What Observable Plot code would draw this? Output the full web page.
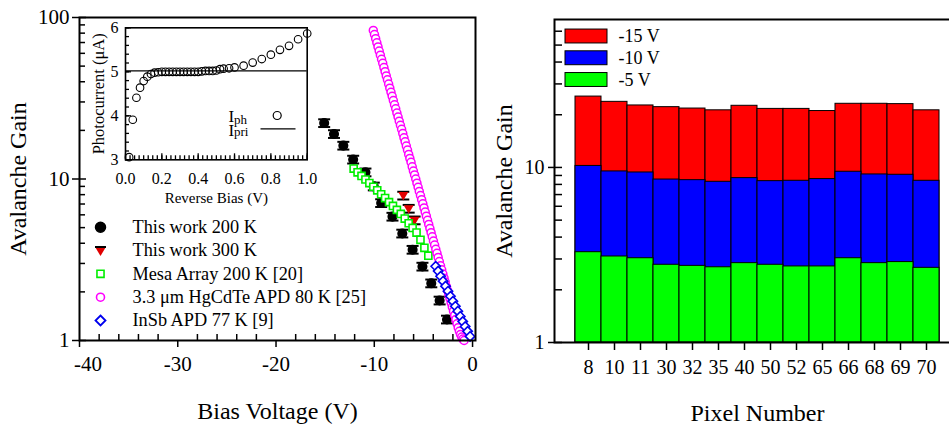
<!DOCTYPE html>
<html><head><meta charset="utf-8">
<script src="https://cdn.jsdelivr.net/npm/d3@7"></script>
<script src="https://cdn.jsdelivr.net/npm/@observablehq/plot@0.6"></script>
<style>
body{margin:0;background:#fff;overflow:hidden}
#wrap{position:relative;width:949px;height:425px;overflow:hidden;background:#fff}
#wrap > svg{position:absolute;top:0;margin:0}
#wrap svg, #wrap svg text{font-family:"Liberation Serif","Times New Roman",serif !important}
</style></head><body><div id="wrap"></div>
<script>
// ---------- Left panel: avalanche gain vs bias ----------
const seriesNames = ["This work 200 K","This work 300 K","Mesa Array 200 K [20]","3.3 μm HgCdTe APD 80 K [25]","InSb APD 77 K [9]"];
const work200V = [-15.1,-14.1,-13.15,-12.15,-10.9,-10.05,-9.3,-8.15,-7.15,-6.1,-5.1,-4.2,-3.35,-2.6];
const work200G = [22.2,19.0,16.1,13.2,11.0,9.0,7.1,5.85,4.6,3.65,2.87,2.26,1.77,1.35];
const work300V = [-7.05,-6.5,-5.9];
const work300G = [7.9,6.55,5.55];
const relErr = 0.055;
const mesaV = [-12.1,-11.7,-11.3,-10.9,-10.5,-10.1,-9.7,-9.3,-8.9,-8.5,-8.1,-7.7,-7.3,-6.9,-6.5,-6.1,-5.7,-5.3,-4.9,-4.5];
const mesaG = [11.6,11.0,10.45,9.93,9.44,8.95,8.51,8.05,7.62,7.19,6.81,6.44,6.08,5.69,5.32,4.98,4.66,4.2,3.75,3.35];
const hgV = [-10.10,-9.98,-9.86,-9.74,-9.62,-9.50,-9.38,-9.26,-9.14,-9.02,
  -8.90,-8.78,-8.66,-8.54,-8.42,-8.30,-8.18,-8.06,-7.94,-7.82,
  -7.70,-7.58,-7.46,-7.34,-7.22,-7.10,-6.98,-6.86,-6.74,-6.62,
  -6.50,-6.38,-6.26,-6.14,-6.02,-5.90,-5.78,-5.66,-5.54,-5.42,
  -5.30,-5.18,-5.06,-4.94,-4.82,-4.70,-4.58,-4.46,-4.34,-4.22,
  -4.10,-3.98,-3.86,-3.74,-3.62,-3.50,-3.38,-3.26,-3.14,-3.02,
  -2.90,-2.78,-2.66,-2.54,-2.42,-2.30,-2.18,-2.06,-1.94,-1.82,
  -1.70,-1.58,-1.46,-1.34,-1.22,-1.10,-0.98,-0.86];
const hgG = [83.2,78.4,73.9,69.7,65.7,62.0,58.4,55.1,52.0,49.0,
  46.2,43.5,41.1,38.7,36.5,34.4,32.5,30.6,28.8,27.2,
  25.6,24.2,22.8,21.5,20.3,19.1,18.0,17.0,16.0,15.1,
  14.2,13.4,12.7,11.9,11.2,10.6,10.0,9.42,8.89,8.38,
  7.90,7.45,7.02,6.62,6.24,5.89,5.55,5.23,4.93,4.65,
  4.39,4.13,3.90,3.67,3.47,3.27,3.08,2.90,2.74,2.58,
  2.43,2.30,2.16,2.04,1.92,1.82,1.71,1.61,1.52,1.43,
  1.35,1.27,1.20,1.14,1.09,1.05,1.02,1.00];
const insbV = [-3.75,-3.5,-3.25,-3.0,-2.75,-2.5,-2.25,-2.0,-1.75,-1.5,-1.25,-1.0,-0.75,-0.5,-0.25];
const insbG = [2.88,2.69,2.50,2.33,2.17,2.02,1.88,1.75,1.63,1.52,1.41,1.31,1.22,1.14,1.06];
const mainXTicks = [-40,-30,-20,-10,0];
const mainYTicks = [1,10,100];

// ---------- Inset: photocurrent vs reverse bias ----------
const insetBias = [0.02,0.04,0.06,0.08,0.10,0.12,0.14,0.16,0.18,0.20,0.22,0.24,0.26,0.28,0.30,0.32,0.34,0.36,0.38,0.40,0.42,0.44,0.46,0.48,0.50,0.52,0.54,0.57,0.60,0.65,0.70,0.75,0.80,0.85,0.90,0.95,1.00];
const insetIph = [3.06,3.91,4.41,4.64,4.79,4.89,4.95,4.98,4.99,5.00,5.00,5.00,5.00,5.00,5.00,5.00,5.00,5.00,5.00,5.00,5.01,5.02,5.02,5.02,5.03,5.06,5.07,5.08,5.10,5.14,5.21,5.29,5.39,5.50,5.59,5.74,5.87];
const insetIpri = 5.02;
const insetXTicks = [0,0.2,0.4,0.6,0.8,1.0];
const insetYTicks = [3,4,5,6];

// ---------- Right panel: gain per pixel ----------
const pixels = ["8","10","11","30","32","35","40","50","52","65","66","68","69","70"];
const gain15 = [25.4,23.7,22.6,22.1,21.7,21.2,22.5,21.6,21.6,21.0,23.1,23.1,23.0,21.2];
const gain10 = [10.2,9.49,9.36,8.53,8.46,8.28,8.69,8.35,8.39,8.58,9.45,9.12,9.08,8.39];
const gain5 = [3.28,3.10,3.03,2.78,2.74,2.69,2.84,2.78,2.72,2.72,3.03,2.84,2.88,2.67];
const biasLabels = ["-15 V","-10 V","-5 V"];
const biasColors = ["#ff0000","#0000ff","#00ff00"];
const rightYTicks = [1,10];

// ---------- helpers ----------
const font = "Liberation Serif";
const pts = (V, G) => V.map((v, i) => ({v, g: G[i]}));
const capSym = {draw(ctx, size){ const r = Math.sqrt(size/Math.PI); ctx.moveTo(-r,0); ctx.lineTo(r,0); }};
const downTri = {draw(ctx, size){ const r = Math.sqrt(size/Math.PI); ctx.moveTo(-r,-0.7*r); ctx.lineTo(r,-0.7*r); ctx.lineTo(0,r); ctx.closePath(); }};
const wrap = document.getElementById("wrap");
function place(svg, left){ svg.style.left = left + "px"; wrap.appendChild(svg); }
const label = (s, o) => Plot.text([s], {text: d => d, textAnchor: "middle", lineAnchor: "middle", ...o});

const w200 = pts(work200V, work200G), w300 = pts(work300V, work300G);
const mesa = pts(mesaV, mesaG), hg = pts(hgV, hgG), insb = pts(insbV, insbG);

// main left plot
const mW = 480, mH = 425, mL = 79, mR = 5, mT = 17, mB = 85;
const fW = mW - mL - mR, fH = mH - mT - mB;
const xMinor = d3.range(-38, 0, 2).filter(v => v % 10 !== 0);
const yMinor = [2,3,4,5,6,7,8,9,20,30,40,50,60,70,80,90];
const errMarks = (data) => [
  Plot.ruleX(data, {x: "v", y1: d => d.g*(1-relErr), y2: d => d.g*(1+relErr), stroke: "black", strokeWidth: 1.5}),
  Plot.dot(data, {x: "v", y: d => d.g*(1+relErr), symbol: capSym, r: 6, stroke: "black", fill: "none", strokeWidth: 2}),
  Plot.dot(data, {x: "v", y: d => d.g*(1-relErr), symbol: capSym, r: 6, stroke: "black", fill: "none", strokeWidth: 2})
];
const main = Plot.plot({
  width: mW, height: mH, marginLeft: mL, marginRight: mR, marginTop: mT, marginBottom: mB,
  style: {fontFamily: font, fontSize: "21px", background: "transparent", color: "black"},
  x: {domain: [-40, 0.3]},
  y: {type: "log", domain: [1, 100]},
  marks: [
    Plot.tickX(xMinor, {x: d => d, insetTop: fH - 6, stroke: "black", strokeWidth: 1.5}),
    Plot.tickY(yMinor, {y: d => d, insetRight: fW - 6, stroke: "black", strokeWidth: 1.5}),
    Plot.tickY(mainYTicks, {y: d => d, insetRight: fW - 7, stroke: "black", strokeWidth: 1.5}),
    Plot.axisX({ticks: mainXTicks, tickSize: 7, tickPadding: 9, tickFormat: d => d === -40 ? "" : String(d), label: null, strokeWidth: 1.5}),
    Plot.text([mainXTicks[0]], {x: d => d, text: d => String(d), frameAnchor: "bottom", lineAnchor: "top", dy: 16, dx: 8.5, fontSize: 21}),
    Plot.axisY({ticks: mainYTicks, tickSize: 7, tickPadding: 3, tickFormat: d => String(d), label: null, strokeWidth: 1.5}),
    ...errMarks(w200),
    Plot.dot(w200, {x: "v", y: "g", r: 4.3, fill: "black", stroke: "black"}),
    ...errMarks(w300),
    Plot.dot(w300, {x: "v", y: "g", r: 5, symbol: downTri, fill: "#e00000", stroke: "none"}),
    Plot.dot(mesa, {x: "v", y: "g", r: 4.5, symbol: "square2", stroke: "#00ee00", strokeWidth: 1.6, fill: "white"}),
    Plot.dot(hg, {x: "v", y: "g", r: 4, symbol: "circle", stroke: "#ff00ff", strokeWidth: 1.5, fill: "white"}),
    Plot.dot(insb, {x: "v", y: "g", r: 4.2, symbol: "diamond2", stroke: "#0000ee", strokeWidth: 1.6, fill: "white"}),
    Plot.frame({stroke: "black", strokeWidth: 2}),
    label("Avalanche Gain", {frameAnchor: "left", dx: -61, rotate: -90, fontSize: 24}),
    label("Bias Voltage (V)", {frameAnchor: "bottom", dy: 71, fontSize: 24})
  ]
});
place(main, 0);

// main legend (overlay)
const legendRows = seriesNames.map((name, i) => ({name, i}));
const legend = Plot.plot({
  width: 480, height: 340, margin: 0,
  style: {fontFamily: font, fontSize: "18px", background: "transparent", color: "black"},
  x: {domain: [0, 1], range: [100, 132], axis: null},
  y: {domain: [0, 4], range: [226.7, 320], axis: null},
  marks: [
    Plot.dot([legendRows[0]], {x: () => 0, y: "i", r: 5, fill: "black", stroke: "black"}),
    Plot.dot([legendRows[1]], {x: () => 0, y: "i", r: 5.5, symbol: downTri, fill: "#e00000", stroke: "none"}),
    Plot.dot([legendRows[1]], {x: () => 0, y: "i", dy: -3.5, r: 5.5, symbol: capSym, stroke: "black", fill: "none", strokeWidth: 2}),
    Plot.dot([legendRows[2]], {x: () => 0, y: "i", r: 4.5, symbol: "square2", stroke: "#00ee00", strokeWidth: 1.6, fill: "white"}),
    Plot.dot([legendRows[3]], {x: () => 0, y: "i", r: 4, symbol: "circle", stroke: "#ff00ff", strokeWidth: 1.6, fill: "white"}),
    Plot.dot([legendRows[4]], {x: () => 0, y: "i", r: 4.5, symbol: "diamond2", stroke: "#0000ee", strokeWidth: 1.8, fill: "white"}),
    Plot.text(legendRows, {x: () => 1, y: "i", text: "name", textAnchor: "start", lineAnchor: "middle", fontSize: 18.3})
  ]
});
place(legend, 0);

// inset (overlay, page coordinates)
const iW = 330, iH = 215, iL = 125, iR = 330 - 306.7, iT = 27.3, iB = 215 - 159.3;
const ifW = iW - iL - iR, ifH = iH - iT - iB;
const iph = insetBias.map((v, i) => ({v, i: insetIph[i]}));
const sub = (s, o) => Plot.text([s], {text: d => d, frameAnchor: "top-left", textAnchor: "start", lineAnchor: "middle", ...o});
const inset = Plot.plot({
  width: iW, height: iH, marginLeft: iL, marginRight: iR, marginTop: iT, marginBottom: iB,
  style: {fontFamily: font, fontSize: "16px", background: "transparent", color: "black"},
  x: {domain: [0, 1]},
  y: {domain: [3, 6]},
  marks: [
    Plot.tickX(d3.range(0, 1.0001, 0.025), {x: d => d, insetTop: ifH - 4, stroke: "black", strokeWidth: 1.3}),
    Plot.tickX(insetXTicks, {x: d => d, insetTop: ifH - 6, stroke: "black", strokeWidth: 1.3}),
    Plot.tickY(d3.range(3, 6.0001, 0.2), {y: d => d, insetRight: ifW - 4, stroke: "black", strokeWidth: 1.3}),
    Plot.tickY(insetYTicks, {y: d => d, insetRight: ifW - 6, stroke: "black", strokeWidth: 1.3}),
    Plot.axisX({ticks: insetXTicks, tickSize: 0, tickPadding: 13, tickFormat: d3.format(".1f"), label: null}),
    Plot.axisY({ticks: insetYTicks, tickSize: 0, tickPadding: 7, tickFormat: d => String(d), label: null}),
    Plot.ruleY([insetIpri], {stroke: "black", strokeWidth: 1.2}),
    Plot.dot(iph, {x: "v", y: "i", r: 3.8, stroke: "black", strokeWidth: 1.1, fill: "none"}),
    Plot.frame({stroke: "black", strokeWidth: 1.6}),
    label("Photocurrent (μA)", {frameAnchor: "left", dx: -27, rotate: -90, fontSize: 16.5}),
    label("Reverse Bias (V)", {frameAnchor: "bottom", dy: 38, fontSize: 15}),
    sub("I", {dx: 103, dy: 89, fontSize: 17}),
    sub("ph", {dx: 108.5, dy: 92.5, fontSize: 13}),
    Plot.dot(["Iph"], {frameAnchor: "top-left", dx: 151.7, dy: 87.7, r: 4, stroke: "black", fill: "none", strokeWidth: 1.2}),
    sub("I", {dx: 103, dy: 102.3, fontSize: 17}),
    sub("pri", {dx: 108.5, dy: 104.5, fontSize: 13}),
    Plot.dot(["Ipri"], {frameAnchor: "top-left", dx: 152.5, dy: 101, r: 17.5, symbol: capSym, stroke: "black", fill: "none", strokeWidth: 1.2})
  ]
});
place(inset, 0);

// right plot
const rW = 480, rH = 425, rL = 74, rT = 19, rB = 83;
const rfW = rW - rL, rfH = rH - rT - rB;
const bars = [
  ...pixels.map((p, i) => ({p, g: gain15[i], bias: biasLabels[0]})),
  ...pixels.map((p, i) => ({p, g: gain10[i], bias: biasLabels[1]})),
  ...pixels.map((p, i) => ({p, g: gain5[i], bias: biasLabels[2]}))
];
const rMinor = [2,3,4,5,6,7,8,9,20,30,40,50,60];
const right = Plot.plot({
  width: rW, height: rH, marginLeft: rL, marginRight: 0, marginTop: rT, marginBottom: rB,
  style: {fontFamily: font, fontSize: "20px", background: "transparent", color: "black"},
  x: {type: "band", domain: pixels, paddingInner: 0, paddingOuter: 0.52},
  y: {type: "log", domain: [1, 70]},
  color: {domain: biasLabels, range: biasColors},
  marks: [
    Plot.barY(bars, {x: "p", y1: 1, y2: "g", fill: "bias", stroke: "black", strokeWidth: 1}),
    Plot.tickY(rMinor, {y: d => d, insetRight: rfW - 8, stroke: "black", strokeWidth: 1.5}),
    Plot.tickY(rightYTicks, {y: d => d, insetRight: rfW - 8, stroke: "black", strokeWidth: 1.5}),
    Plot.axisX({tickSize: 8, tickPadding: 9, label: null, strokeWidth: 1.5}),
    Plot.axisY({ticks: rightYTicks, tickSize: 6, tickPadding: 4, tickFormat: d => String(d), label: null, strokeWidth: 1.5}),
    Plot.frame({stroke: "black", strokeWidth: 2}),
    label("Avalanche Gain", {frameAnchor: "left", dx: -50, rotate: -90, fontSize: 24}),
    label("Pixel Number", {frameAnchor: "bottom", dy: 71, fontSize: 24})
  ]
});
place(right, 480);

// right legend (overlay, page coordinates)
const swatches = biasLabels.map((label, i) => ({label, i}));
const rlegend = Plot.plot({
  width: 949, height: 100, margin: 0,
  style: {fontFamily: font, fontSize: "18px", background: "transparent", color: "black"},
  x: {domain: [0, 1], range: [565, 607], axis: null},
  y: {domain: [0, 2], range: [36, 79.5], axis: null},
  color: {domain: biasLabels, range: biasColors},
  marks: [
    Plot.rect(swatches, {x1: () => 0, x2: () => 1, y1: d => d.i - 0.32, y2: d => d.i + 0.32, fill: "label", stroke: "black", strokeWidth: 1}),
    Plot.text(swatches, {x: () => 1, y: "i", text: "label", textAnchor: "start", lineAnchor: "middle", dx: 11, fontSize: 18})
  ]
});
place(rlegend, 0);
</script></body></html>
